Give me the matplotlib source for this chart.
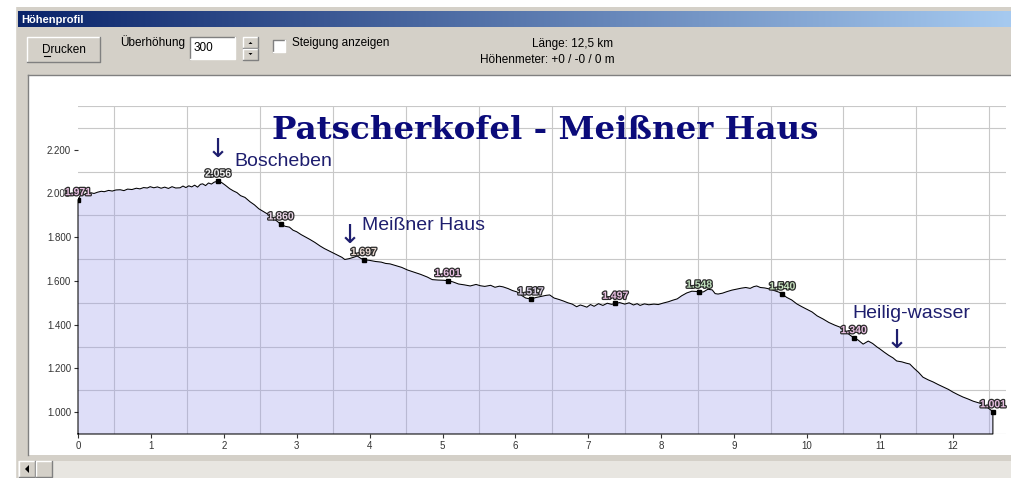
import numpy as np
import matplotlib.pyplot as plt
import matplotlib.patheffects as pe
from matplotlib.patches import Rectangle, Polygon
from matplotlib.ticker import FuncFormatter

# Profil (km / Meter)
km = [0.00, 0.03, 0.08, 0.12, 0.18, 0.22, 0.27, 0.32, 0.36, 0.42, 0.47, 0.52, 0.58, 0.63,
      0.68, 0.74, 0.80, 0.85, 0.90, 0.95, 0.99, 1.04, 1.09, 1.14, 1.19, 1.24, 1.29, 1.34,
      1.40, 1.44, 1.48, 1.52, 1.56, 1.60, 1.64, 1.68, 1.71, 1.75, 1.79, 1.83, 1.87, 1.92,
      1.97, 2.02, 2.08, 2.13, 2.18, 2.23, 2.29, 2.36, 2.42, 2.48, 2.54, 2.60, 2.66, 2.72,
      2.78, 2.84, 2.90, 2.95, 3.00, 3.06, 3.12, 3.18, 3.25, 3.32, 3.38, 3.44, 3.50, 3.56,
      3.62, 3.66, 3.72, 3.78, 3.83, 3.88, 3.92, 4.00, 4.08, 4.16, 4.22, 4.28, 4.36, 4.44,
      4.52, 4.60, 4.70, 4.79, 4.86, 4.94, 5.02, 5.07, 5.14, 5.22, 5.30, 5.38, 5.46, 5.52,
      5.58, 5.66, 5.72, 5.78, 5.83, 5.90, 5.96, 6.02, 6.08, 6.14, 6.21, 6.28, 6.36, 6.42,
      6.47, 6.53, 6.60, 6.66, 6.72, 6.78, 6.84, 6.89, 6.93, 6.98, 7.03, 7.08, 7.14, 7.20,
      7.26, 7.32, 7.37, 7.43, 7.50, 7.56, 7.62, 7.67, 7.71, 7.77, 7.83, 7.90, 7.96, 8.03,
      8.10, 8.16, 8.22, 8.28, 8.35, 8.42, 8.48, 8.52, 8.58, 8.64, 8.70, 8.74, 8.78, 8.84,
      8.90, 8.97, 9.04, 9.10, 9.16, 9.22, 9.27, 9.31, 9.36, 9.42, 9.49, 9.55, 9.62, 9.66,
      9.72, 9.79, 9.86, 9.93, 10.00, 10.07, 10.14, 10.22, 10.30, 10.38, 10.45, 10.52, 10.58,
      10.64, 10.70, 10.77, 10.84, 10.90, 10.96, 11.00, 11.06, 11.12, 11.18, 11.23, 11.30,
      11.36, 11.41, 11.47, 11.53, 11.59, 11.66, 11.73, 11.80, 11.87, 11.94, 12.00, 12.07,
      12.14, 12.21, 12.28, 12.35, 12.41, 12.47, 12.52, 12.55]
hoehe = [1971, 1990, 1995, 1999, 2003, 2000, 2006, 2010, 2008, 2014, 2011, 2016, 2017, 2013,
         2020, 2018, 2024, 2021, 2027, 2025, 2031, 2026, 2030, 2024, 2029, 2023, 2031, 2025,
         2026, 2034, 2027, 2035, 2030, 2038, 2029, 2042, 2044, 2036, 2048, 2043, 2052, 2056,
         2050, 2038, 2022, 2012, 2004, 1990, 1982, 1962, 1948, 1930, 1918, 1906, 1888, 1876,
         1860, 1850, 1846, 1832, 1825, 1812, 1801, 1790, 1776, 1760, 1748, 1738, 1728, 1718,
         1708, 1698, 1702, 1708, 1714, 1703, 1697, 1694, 1689, 1686, 1680, 1678, 1670, 1662,
         1650, 1641, 1630, 1618, 1606, 1604, 1603, 1601, 1596, 1586, 1582, 1577, 1584, 1578,
         1575, 1580, 1571, 1576, 1573, 1565, 1556, 1550, 1535, 1522, 1517, 1524, 1530, 1534,
         1536, 1522, 1515, 1508, 1500, 1494, 1482, 1490, 1486, 1480, 1492, 1484, 1496, 1488,
         1498, 1493, 1497, 1501, 1494, 1500, 1490, 1496, 1488, 1495, 1491, 1494, 1492, 1499,
         1505, 1512, 1518, 1532, 1545, 1553, 1552, 1548, 1550, 1562, 1559, 1542, 1540, 1544,
         1551, 1558, 1563, 1567, 1570, 1566, 1574, 1577, 1570, 1568, 1563, 1556, 1548, 1540,
         1525, 1513, 1495, 1482, 1470, 1458, 1440, 1426, 1410, 1398, 1389, 1370, 1355,
         1340, 1330, 1311, 1325, 1314, 1298, 1289, 1274, 1260, 1248, 1234, 1230,
         1224, 1220, 1200, 1182, 1160, 1148, 1138, 1126, 1115, 1104, 1092, 1080,
         1069, 1060, 1050, 1043, 1037, 1022, 1010, 1001]

punkt_km = [0.0, 1.92, 2.78, 3.92, 5.07, 6.21, 7.37, 8.52, 9.66, 10.64, 12.55]
punkt_hoehe = [1971, 2056, 1860, 1697, 1601, 1517, 1497, 1548, 1540, 1340, 1001]
punkt_farbe = ['#e9bfe2', '#f2f2f2', '#ecd6e8', '#e8d8d0', '#e9bfe2', '#dcd0e8',
               '#e9bfe2', '#bfe0bc', '#c8e4c0', '#e9bfe2', '#e9bfe2']

x_ticks = list(range(0, 13))
y_ticks = [1000, 1200, 1400, 1600, 1800, 2000, 2200]

titel = 'Patscherkofel - Meißner Haus'
orte = ['Boscheben', 'Meißner Haus', 'Heilig-wasser']

plt.rcParams['font.family'] = ['Liberation Sans', 'DejaVu Sans']

fig = plt.figure(figsize=(10.11, 4.78), dpi=100)

# --- Fensterrahmen (Pixelkoordinaten) ---
bg = fig.add_axes([0, 0, 1, 1])
bg.set_xlim(0, 1011)
bg.set_ylim(478, 0)
bg.axis('off')
grau = '#d4d0c8'


def rahmen(x0, y0, x1, y1, fc, erhaben=True):
    bg.add_patch(Rectangle((x0, y0), x1 - x0, y1 - y0, fc=fc, ec='none', zorder=2))
    hell, dunkel = ('white', '#808080') if erhaben else ('#808080', 'white')
    bg.plot([x0, x0, x1], [y1, y0, y0], color=hell, lw=1, zorder=3)
    bg.plot([x0, x1, x1], [y1, y1, y0], color=dunkel, lw=1, zorder=3)


bg.add_patch(Rectangle((15, 7), 1000, 475, fc=grau, ec='none', zorder=1))
bg.plot([15, 15], [7, 478], color='#ffffff', lw=1, zorder=1.5)

# Titelleiste mit Verlauf
t = np.linspace(0, 1, 400)
c0 = np.array([10, 36, 106]) / 255
c1 = np.array([166, 202, 240]) / 255
verlauf = (c0[None, :] + (c1 - c0)[None, :] * t[:, None])[None, :, :]
bg.imshow(verlauf, extent=(18, 1011, 27, 11), aspect='auto', interpolation='bilinear', zorder=2)
bg.set_xlim(0, 1011)
bg.set_ylim(478, 0)
bg.text(21, 19.5, 'Höhenprofil', color='white', fontsize=8, fontweight='bold', va='center', zorder=4)

# Werkzeugleiste
rahmen(27, 37, 100, 62, grau)
bg.text(63.5, 50, 'Drucken', fontsize=8.5, ha='center', va='center', color='black', zorder=4)
bg.plot([43.5, 50], [55.5, 55.5], color='black', lw=0.8, zorder=4)
bg.text(120, 42, 'Überhöhung', fontsize=8.5, va='center', color='black', zorder=4)
rahmen(190, 37, 235, 59, 'white', erhaben=False)
bg.text(194, 48, '300', fontsize=8.5, va='center', color='black', zorder=4)
rahmen(243, 37, 258, 48, grau)
rahmen(243, 49, 258, 60, grau)
bg.add_patch(Polygon([[248.5, 44], [252.5, 44], [250.5, 42]], closed=True, fc='black', ec='none', zorder=4))
bg.add_patch(Polygon([[248.5, 53], [252.5, 53], [250.5, 55]], closed=True, fc='black', ec='none', zorder=4))
rahmen(273, 40, 285, 52, 'white', erhaben=False)
bg.text(292, 43, 'Steigung anzeigen', fontsize=8.5, va='center', color='black', zorder=4)
bg.text(573, 44, 'Länge: 12,5 km', fontsize=8.5, ha='center', va='center', color='black', zorder=4)
bg.text(547, 60, 'Höhenmeter: +0 / -0 / 0 m', fontsize=8.5, ha='center', va='center', color='black', zorder=4)

# Zeichenfläche und Bildlaufleiste
bg.add_patch(Rectangle((28, 75), 990, 380, fc='white', ec='none', zorder=2))
bg.plot([28, 1011], [75, 75], color='#808080', lw=1, zorder=3)
bg.plot([28, 28], [75, 455], color='#808080', lw=1, zorder=3)
bg.add_patch(Rectangle((18, 461), 993, 17, fc='#e8e6e1', ec='none', zorder=2))
rahmen(19, 461, 35, 477, grau)
bg.add_patch(Polygon([[25, 469], [29, 465], [29, 473]], closed=True, fc='black', ec='none', zorder=4))
rahmen(36, 461, 52, 477, grau)

# --- Diagramm ---
ax = fig.add_axes([78 / 1011, 1 - 434 / 478, 928 / 1011, 328 / 478])
ax.set_facecolor('white')
ax.set_xlim(0, 928 / 72.9)
ax.set_ylim(900, 2400)
for s in ax.spines.values():
    s.set_visible(False)

ax.set_xticks(x_ticks)
ax.set_yticks(y_ticks)
ax.set_xticks(np.arange(0, 12.51, 0.5), minor=True)
ax.set_yticks(np.arange(900, 2401, 100), minor=True)
ax.yaxis.set_major_formatter(FuncFormatter(lambda v, p: f'{int(v):,}'.replace(',', '.')))
ax.tick_params(which='major', length=3, width=0.8, color='#333333', labelsize=7,
               labelcolor='#333333', pad=2)
ax.tick_params(which='minor', length=0)
ax.grid(which='minor', color='#c8c8c8', lw=0.8)
ax.set_axisbelow(True)

ax.fill_between(km, 900, hoehe, facecolor=(155 / 255, 155 / 255, 234 / 255), alpha=0.33,
                edgecolor='none', zorder=3)
ax.plot([0] + km + [km[-1], 0], [900] + hoehe + [900, 900], color='black', lw=0.75,
        zorder=4, clip_on=False)
ax.plot(punkt_km, punkt_hoehe, 's', ms=3.5, color='black', zorder=5)

for x, v, f in zip(punkt_km, punkt_hoehe, punkt_farbe):
    ax.annotate(f'{v:,}'.replace(',', '.'), (x, v), xytext=(0, 5.5), textcoords='offset points',
                ha='center', va='center', fontsize=7.5, fontweight='bold', color=f, zorder=6,
                path_effects=[pe.withStroke(linewidth=1.8, foreground='#2b2b2b')])

ax.text(0.504, 0.924, titel, transform=ax.transAxes, ha='center', va='center',
        fontsize=23.4, fontweight='bold', family='DejaVu Serif', color='#0b0b7a', zorder=7)

navy = '#1e1e6e'
pfeil = dict(transform=ax.transAxes, ha='center', va='center', fontsize=19,
             family='DejaVu Sans', color=navy, zorder=7)
ort = dict(transform=ax.transAxes, ha='left', va='center', fontsize=14, color=navy, zorder=7)
ax.text(0.151, 0.866, '↓', **pfeil)
ax.text(0.169, 0.832, orte[0], **ort)
ax.text(0.293, 0.604, '↓', **pfeil)
ax.text(0.306, 0.637, orte[1], **ort)
ax.text(0.8825, 0.284, '↓', **pfeil)
ax.text(0.834, 0.366, orte[2], **ort)

fig.savefig('out.png', dpi=100)
